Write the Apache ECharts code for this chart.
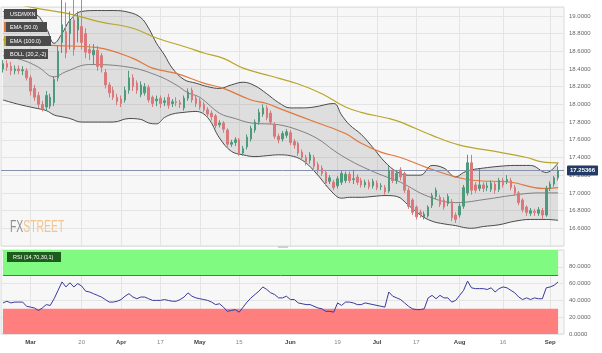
<!DOCTYPE html>
<html>
<head>
<meta charset="utf-8">
<script src="https://cdn.jsdelivr.net/npm/echarts/dist/echarts.min.js"></script>
<style>
  html, body { margin: 0; padding: 0; background: #fff; }
  #chart { width: 602px; height: 353px; }
</style>
</head>
<body>
<div id="chart"></div>
<script>
// trading days (2023), one spare slot on the right like the original
const dates = [
  '02-20','02-21','02-22','02-23','02-24','02-27','02-28',
  '03-01','03-02','03-03','03-06','03-07','03-08','03-09','03-10','03-13','03-14','03-15','03-16','03-17',
  '03-20','03-21','03-22','03-23','03-24','03-27','03-28','03-29','03-30','03-31',
  '04-03','04-04','04-05','04-06','04-07','04-10','04-11','04-12','04-13','04-14',
  '04-17','04-18','04-19','04-20','04-21','04-24','04-25','04-26','04-27','04-28',
  '05-01','05-02','05-03','05-04','05-05','05-08','05-09','05-10','05-11','05-12',
  '05-15','05-16','05-17','05-18','05-19','05-22','05-23','05-24','05-25','05-26','05-29','05-30','05-31',
  '06-01','06-02','06-05','06-06','06-07','06-08','06-09','06-12','06-13','06-14','06-15','06-16',
  '06-19','06-20','06-21','06-22','06-23','06-26','06-27','06-28','06-29','06-30',
  '07-03','07-04','07-05','07-06','07-07','07-10','07-11','07-12','07-13','07-14',
  '07-17','07-18','07-19','07-20','07-21','07-24','07-25','07-26','07-27','07-28','07-31',
  '08-01','08-02','08-03','08-04','08-07','08-08','08-09','08-10','08-11','08-14','08-15',
  '08-16','08-17','08-18','08-21','08-22','08-23','08-24','08-25','08-28','08-29','08-30','08-31',
  '09-01','09-04','09-05'
];
const padDates = ['09-06'];

const tickDates = ['03-01','03-20','04-03','04-17','05-01','05-15','06-01','06-19','07-03','07-17','08-01','08-16','09-01'];
const tickLabels = ['Mar','20','Apr','17','May','15','Jun','19','Jul','17','Aug','16','Sep'];

// open, close, low, high
const ohlc = [
  [18.40,18.46,18.36,18.50],[18.46,18.42,18.38,18.50],[18.43,18.38,18.33,18.48],[18.38,18.40,18.34,18.44],
  [18.40,18.38,18.34,18.44],[18.38,18.39,18.33,18.43],[18.38,18.30,18.27,18.41],[18.30,18.15,18.10,18.33],
  [18.18,18.08,18.04,18.22],[18.10,18.00,17.96,18.14],[18.00,17.95,17.92,18.04],[17.97,18.10,17.93,18.15],
  [17.98,18.08,17.95,18.12],[18.02,18.28,17.98,18.32],[18.30,18.60,18.26,18.66],[18.70,18.90,18.58,19.20],
  [18.82,18.58,18.52,19.15],[18.80,18.95,18.62,19.05],[18.95,18.62,18.55,19.20],[18.84,18.98,18.70,19.05],
  [18.88,18.70,18.62,19.23],[18.80,18.59,18.52,18.86],[18.62,18.58,18.50,18.68],[18.56,18.61,18.45,18.68],
  [18.61,18.43,18.38,18.66],[18.55,18.42,18.36,18.58],[18.36,18.22,18.18,18.40],[18.22,18.13,18.08,18.25],
  [18.16,18.08,18.05,18.20],[18.08,18.03,17.99,18.12],[18.06,18.01,17.97,18.10],[18.05,18.16,18.02,18.20],
  [18.16,18.30,18.12,18.38],[18.30,18.20,18.15,18.34],[18.24,18.16,18.12,18.27],[18.11,18.22,18.08,18.26],
  [18.13,18.20,18.10,18.24],[18.19,18.05,18.02,18.22],[18.08,18.01,17.97,18.10],[18.04,18.06,17.98,18.10],
  [18.07,18.01,17.96,18.10],[18.02,18.04,17.98,18.08],[18.08,17.99,17.95,18.12],[18.01,18.03,17.97,18.06],
  [18.03,18.02,17.98,18.08],[18.02,18.00,17.96,18.05],[17.96,18.07,17.93,18.10],[18.07,18.14,18.04,18.18],
  [18.16,18.05,18.02,18.19],[18.07,18.01,17.97,18.10],[18.04,17.97,17.94,18.07],[18.00,17.94,17.91,18.03],
  [17.94,17.89,17.86,17.97],[17.90,17.86,17.82,17.93],[17.87,17.76,17.73,17.89],[17.77,17.79,17.74,17.82],
  [17.79,17.72,17.68,17.81],[17.71,17.55,17.52,17.73],[17.55,17.57,17.52,17.60],[17.57,17.60,17.53,17.63],
  [17.60,17.44,17.42,17.62],[17.45,17.50,17.42,17.53],[17.52,17.63,17.49,17.66],[17.61,17.73,17.58,17.76],
  [17.71,17.80,17.68,17.83],[17.80,17.91,17.77,17.95],[17.89,17.96,17.86,18.00],[17.96,17.85,17.82,17.99],
  [17.90,17.80,17.77,17.93],[17.77,17.64,17.61,17.80],[17.64,17.60,17.56,17.67],[17.61,17.67,17.58,17.70],
  [17.65,17.69,17.62,17.72],[17.68,17.57,17.54,17.71],[17.58,17.54,17.50,17.61],[17.56,17.45,17.42,17.58],
  [17.46,17.40,17.37,17.49],[17.40,17.35,17.31,17.43],[17.37,17.43,17.33,17.46],[17.40,17.30,17.27,17.43],
  [17.32,17.26,17.22,17.35],[17.28,17.22,17.19,17.31],[17.23,17.11,17.08,17.26],[17.13,17.17,17.10,17.20],
  [17.12,17.06,17.03,17.15],[17.08,17.16,17.05,17.19],[17.12,17.22,17.09,17.25],[17.14,17.21,17.11,17.24],
  [17.21,17.14,17.11,17.24],[17.15,17.16,17.10,17.26],[17.18,17.12,17.09,17.21],[17.14,17.09,17.06,17.17],
  [17.09,17.12,17.06,17.15],[17.12,17.07,17.04,17.15],[17.08,17.13,17.05,17.16],[17.11,17.06,17.03,17.14],
  [17.07,17.08,17.03,17.11],[17.06,17.01,16.98,17.09],[17.02,17.25,17.00,17.30],[17.25,17.14,17.11,17.28],
  [17.14,17.22,17.10,17.26],[17.26,17.18,17.14,17.29],[17.22,17.03,17.00,17.24],[17.03,16.85,16.82,17.06],
  [16.92,16.78,16.75,16.94],[16.84,16.73,16.70,16.86],[16.78,16.76,16.72,16.81],[16.73,16.76,16.70,16.79],
  [16.74,16.84,16.72,16.86],[16.86,16.97,16.83,17.00],[16.96,17.03,16.93,17.06],[16.95,16.87,16.84,16.98],
  [16.92,16.84,16.81,16.95],[16.88,16.96,16.85,16.99],[16.90,16.72,16.68,16.93],[16.75,16.70,16.66,16.78],
  [16.75,16.85,16.72,16.88],[16.85,17.06,16.82,17.09],[17.00,17.34,16.97,17.43],[17.34,17.03,16.98,17.43],
  [17.09,17.03,17.00,17.12],[17.05,17.09,17.02,17.27],[17.09,17.05,17.01,17.12],[17.06,17.08,17.02,17.12],
  [17.04,17.11,17.01,17.14],[17.10,17.03,16.99,17.13],[17.04,17.14,17.01,17.17],[17.14,17.09,17.06,17.17],
  [17.13,17.15,17.10,17.20],[17.14,17.06,17.03,17.17],[17.06,17.00,16.97,17.09],[17.00,16.89,16.86,17.02],
  [16.92,16.81,16.78,16.94],[16.84,16.78,16.74,16.86],[16.77,16.80,16.74,16.83],[16.79,16.78,16.74,16.82],
  [16.77,16.81,16.74,16.84],[16.80,16.75,16.70,16.83],[16.75,17.05,16.73,17.08],[17.05,17.10,17.02,17.13],
  [17.10,17.17,17.07,17.19],[17.17,17.25366,17.14,17.30]
];
const lastPrice = 17.25366;

// indicator lines, read at a few days (index into dates)
const bollIdx = [0,4,8,11,13,15,17,20,24,28,32,35,37,39,41,43,46,49,52,55,58,61,64,67,70,73,76,79,84,86,
                 88,91,94,97,100,103,106,109,112,115,117,119,122,126,130,134,138,141];
const bollUpper = [19.05,19.03,19.02,18.86,18.69,18.80,18.95,19.05,19.06,19.06,19.04,18.98,18.86,18.69,18.56,18.41,18.28,18.24,18.20,18.18,
                   18.22,18.25,18.21,18.12,18.02,17.96,17.96,17.97,18.01,17.88,17.77,17.66,17.51,17.35,17.24,17.20,17.20,17.31,17.28,17.18,
                   17.23,17.26,17.28,17.30,17.31,17.31,17.23,17.34];
const bollLower = [18.05,18.00,17.96,17.93,17.88,17.86,17.84,17.80,17.80,17.80,17.84,17.83,17.79,17.78,17.85,17.89,17.91,17.92,17.85,17.62,
                   17.47,17.43,17.41,17.42,17.43,17.42,17.37,17.25,16.99,16.94,16.95,16.95,16.96,16.97,16.96,16.86,16.75,16.68,16.65,16.63,
                   16.61,16.60,16.62,16.64,16.68,16.70,16.70,16.69];
const midIdx = [0,5,9,13,16,22,32,39,44,47,50,55,59,63,70,75,80,84,88,93,98,101,108,115,123,129,136,141];
const midVal = [18.55,18.50,18.42,18.31,18.37,18.45,18.42,18.33,18.22,18.13,18.08,17.90,17.84,17.79,17.77,17.71,17.61,17.48,17.37,17.26,
                17.17,17.12,16.96,16.89,16.93,16.97,17.00,17.00];
const ema50Idx = [0,11,24,33,38,44,51,56,63,67,71,80,87,91,96,101,108,115,120,129,137,141];
const ema50Val = [18.73,18.67,18.64,18.52,18.41,18.35,18.24,18.18,18.05,18.01,17.94,17.79,17.67,17.56,17.46,17.40,17.28,17.18,17.14,17.12,
                  17.05,17.06];
const ema100Idx = [0,8,16,25,33,39,47,51,56,61,68,75,81,87,91,98,101,109,116,126,133,137,141];
const ema100Val = [19.17,19.09,19.03,18.93,18.86,18.75,18.64,18.58,18.52,18.41,18.32,18.23,18.12,17.97,17.91,17.84,17.80,17.65,17.54,17.46,
                   17.40,17.35,17.34];

const rsi = [
  37,39,37,38,38,38,33,32,31,28, 31,35,34,42,52,62,56,61,56,60,
  57,51,50,48,46,44,41,38,38,39, 41,45,48,44,42,44,44,42,40,40,
  40,41,40,39,39,41,44,49,45,43, 42,41,40,38,35,36,32,27,28,29,
  26,32,38,43,47,51,56,53,49,47, 43,43,45,41,41,37,36,35,35,33,
  31,30,27,27,26,37,34,38,38,37, 35,35,37,36,35,34,33,32,50,45,
  43,41,37,33,30,29,29,30,43,46, 42,46,43,43,38,40,46,52,63,55,
  54,54,54,53,55,50,54,56,55,52, 49,44,41,43,41,43,42,42,55,56,
  58,62
];

const allDates = dates.concat(padDates);
const pairs = (idx, val) => idx.map((k, j) => [dates[k], val[j]]);
const bollBand = bollIdx.map((k, j) => [dates[k], +(bollUpper[j] - bollLower[j]).toFixed(4)]);
const tickMap = {};
tickDates.forEach((d, i) => { tickMap[d] = tickLabels[i]; });
const isTick = (i, v) => v in tickMap;

const FONT = 'Liberation Sans, Arial, sans-serif';
const upCol = '#4f9a7c';
const downCol = '#d9797b';
const gridCol = '#e4e4e4';
const firstDay = dates[0];
const lastDay = dates[dates.length - 1];

const chart = echarts.init(document.getElementById('chart'));

// small dark caption boxes, top-left of each panel
const caption = (x, y, w, text, fill, stripe) => {
  const els = [
    { type: 'rect', z: 100, shape: { x: x, y: y, width: w, height: 10 }, style: { fill: fill } },
    { type: 'text', z: 101, x: x + 6, y: y + 5,
      style: { text: text, fill: '#fff', fontSize: 5.5, fontFamily: FONT, verticalAlign: 'middle' } }
  ];
  if (stripe) els.push({ type: 'rect', z: 101, shape: { x: x, y: y, width: 2, height: 10 }, style: { fill: stripe } });
  return els;
};

const option = {
  animation: false,
  backgroundColor: '#ffffff',
  textStyle: { fontFamily: FONT },
  grid: [
    { left: 1, right: 38, top: 7, height: 239, show: true, backgroundColor: '#f7f7f7',
      borderColor: '#dadada', borderWidth: 1, outerBoundsMode: 'none' },
    { left: 1, right: 38, top: 250, height: 84, show: true, backgroundColor: '#f7f7f7',
      borderColor: '#dadada', borderWidth: 1, outerBoundsMode: 'none' }
  ],
  xAxis: [
    { type: 'category', gridIndex: 0, data: allDates,
      axisLine: { show: false }, axisTick: { show: false }, axisLabel: { show: false },
      splitLine: { show: true, interval: isTick, alignWithLabel: true, lineStyle: { color: gridCol } } },
    { type: 'category', gridIndex: 1, data: allDates,
      axisLine: { show: false }, axisTick: { show: false },
      axisLabel: {
        show: true, interval: isTick, margin: 5, fontSize: 6,
        formatter: v => {
          const t = tickMap[v];
          return /^\d/.test(t) ? '{d|' + t + '}' : '{m|' + t + '}';
        },
        rich: {
          m: { fontSize: 6, fontWeight: 'bold', color: '#444', fontFamily: FONT },
          d: { fontSize: 6, color: '#888', fontFamily: FONT }
        }
      },
      splitLine: { show: true, interval: isTick, alignWithLabel: true, lineStyle: { color: gridCol } } }
  ],
  yAxis: [
    { type: 'value', gridIndex: 0, position: 'right', min: 16.4, max: 19.1, interval: 0.2,
      axisLine: { show: false }, axisTick: { show: false },
      axisLabel: { fontSize: 6, color: '#666', margin: 5, showMinLabel: false, showMaxLabel: false,
                   formatter: v => v.toFixed(4) },
      splitLine: { lineStyle: { color: gridCol } } },
    { type: 'value', gridIndex: 1, position: 'right', min: 0, max: 100, interval: 20,
      axisLine: { show: false }, axisTick: { show: false },
      axisLabel: { fontSize: 6, color: '#666', margin: 5, showMaxLabel: false,
                   formatter: v => v.toFixed(4) },
      splitLine: { lineStyle: { color: gridCol } } }
  ],
  series: [
    { name: 'bollLower', type: 'line', data: pairs(bollIdx, bollLower), stack: 'boll',
      smooth: 0.4, symbol: 'none', z: 2, lineStyle: { color: '#4a4a4a', width: 1 } },
    { name: 'bollBand', type: 'line', data: bollBand, stack: 'boll',
      smooth: 0.4, symbol: 'none', z: 2, lineStyle: { color: '#4a4a4a', width: 1 },
      areaStyle: { color: 'rgba(120,120,120,0.28)' } },
    { name: 'bollMid', type: 'line', data: pairs(midIdx, midVal),
      smooth: 0.4, symbol: 'none', z: 3, lineStyle: { color: '#6a6a6a', width: 0.8 } },
    { name: 'EMA100', type: 'line', data: pairs(ema100Idx, ema100Val),
      smooth: 0.4, symbol: 'none', z: 3, lineStyle: { color: '#b8a62a', width: 1.2 } },
    { name: 'EMA50', type: 'line', data: pairs(ema50Idx, ema50Val),
      smooth: 0.4, symbol: 'none', z: 3, lineStyle: { color: '#e0783c', width: 1.2 } },
    { name: 'USD/MXN', type: 'candlestick', data: ohlc, z: 5, barWidth: 2,
      itemStyle: { color: upCol, color0: downCol, borderColor: upCol, borderColor0: downCol, borderWidth: 1 },
      markLine: {
        silent: true, symbol: ['none', 'none'], animation: false, precision: 5,
        lineStyle: { color: '#8790ad', width: 1, type: 'solid' },
        label: {
          show: true, position: 'end', distance: 3,
          formatter: () => lastPrice.toFixed(5),
          backgroundColor: '#223b66', color: '#fff', fontSize: 6, fontWeight: 'bold',
          padding: [2, 3, 2, 3], borderRadius: 1, fontFamily: FONT
        },
        data: [{ yAxis: lastPrice }]
      } },
    { name: 'RSI', type: 'line', xAxisIndex: 1, yAxisIndex: 1, data: rsi, z: 5,
      symbol: 'none', lineStyle: { color: '#3a3a9c', width: 1 },
      markArea: {
        silent: true,
        data: [
          [{ xAxis: firstDay, yAxis: 70, itemStyle: { color: '#80fa80', opacity: 1 } }, { xAxis: lastDay, yAxis: 100 }],
          [{ xAxis: firstDay, yAxis: 0, itemStyle: { color: '#ff7f7f', opacity: 1 } }, { xAxis: lastDay, yAxis: 30 }]
        ]
      },
      markLine: {
        silent: true, symbol: ['none', 'none'], label: { show: false },
        lineStyle: { color: '#3b8a3b', width: 1, type: 'solid' },
        data: [[{ xAxis: firstDay, yAxis: 70 }, { xAxis: lastDay, yAxis: 70 }]]
      } }
  ],
  graphic: [].concat(
    caption(4, 9, 33, 'USD/MXN', '#4b4b4b'),
    caption(4, 22, 43, 'EMA (50.0)', '#4b4b4b', '#e0783c'),
    caption(4, 36, 47, 'EMA (100.0)', '#4b4b4b', '#b8a62a'),
    caption(4, 49, 44, 'BOLL (20,2,-2)', '#4b4b4b'),
    caption(7, 252, 54, 'RSI (14,70,30,1)', '#1d5c1d'),
    [
      { type: 'rect', z: 100, shape: { x: 278, y: 246, width: 10, height: 2 }, style: { fill: '#cfcfcf' } },
      { type: 'text', z: 100, x: 10, y: 228, scaleX: 0.65,
        style: { text: 'FX', fill: '#8e8e8e', fontSize: 16, fontFamily: FONT, verticalAlign: 'middle' } },
      { type: 'text', z: 100, x: 23.3, y: 228, scaleX: 0.65,
        style: { text: 'STREET', fill: '#f3c48e', fontSize: 16, fontFamily: FONT, verticalAlign: 'middle' } }
    ]
  )
};

chart.setOption(option);
</script>
</body>
</html>
